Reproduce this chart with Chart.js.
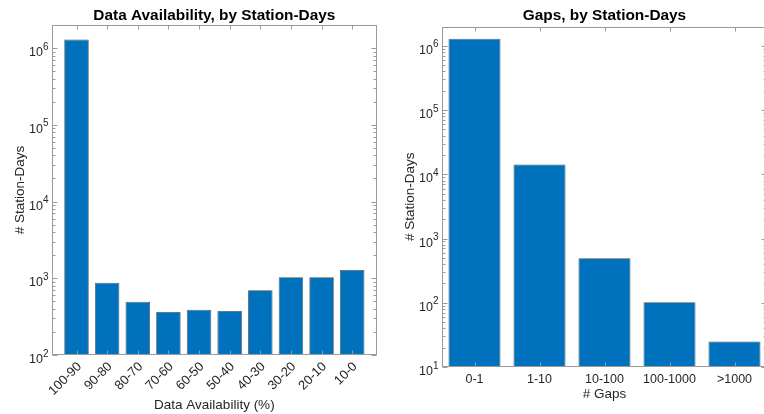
<!DOCTYPE html>
<html>
<head>
<meta charset="utf-8">
<script src="https://cdn.jsdelivr.net/npm/chart.js@4.4.1/dist/chart.umd.min.js"></script>
<style>
  html, body { margin: 0; padding: 0; background: #fff; overflow: hidden; width: 764px; height: 414px; }
  canvas { position: absolute; top: 0; }
  #availability { left: 0; }
  #gaps { left: 380px; }
</style>
</head>
<body>
<canvas id="availability" width="390" height="414"></canvas>
<canvas id="gaps" width="390" height="414"></canvas>
<script>
// Station-days per data-availability bin
const availabilityBins = ['100-90', '90-80', '80-70', '70-60', '60-50', '50-40', '40-30', '30-20', '20-10', '10-0'];
const availabilityDays = [1290000, 877, 495, 364, 390, 375, 697, 1030, 1030, 1283];
const availabilityDecades = [2, 3, 4, 5, 6];

// Station-days per number-of-gaps bin
const gapBins = ['0-1', '1-10', '10-100', '100-1000', '>1000'];
const gapDays = [1290000, 14200, 493, 102, 25];
const gapDecades = [1, 2, 3, 4, 5, 6];

const BAR_FILL = '#0072BD';
const BAR_EDGE = 'rgba(25,25,25,0.75)';
const AXIS = '#9a9a9a';
const TEXT = '#262626';
const FONT = '"Liberation Sans", Arial, Helvetica, sans-serif';

// Boxed axes with inward ticks, log minor ticks and 10^n labels
const boxedAxes = {
  id: 'boxedAxes',
  afterDraw(chart, args, o) {
    const ctx = chart.ctx, a = chart.chartArea;
    const xs = chart.scales.x, ys = chart.scales.y;
    const L = Math.round(a.left) + 0.5, R = Math.round(a.right) - 0.5;
    const T = Math.round(a.top) + 0.5, B = Math.round(a.bottom) - 0.5;
    ctx.save();
    ctx.strokeStyle = AXIS;
    ctx.lineWidth = 1;
    const seg = (x1, y1, x2, y2) => { ctx.beginPath(); ctx.moveTo(x1, y1); ctx.lineTo(x2, y2); ctx.stroke(); };
    ctx.strokeRect(L, T, R - L, B - T);

    o.categories.forEach((c, i) => {
      const px = Math.round(xs.getPixelForValue(i + 1)) + 0.5;
      seg(px, B, px, B - 4);
      seg(px, T, px, T + 4);
    });

    o.decades.forEach(e => {
      const py = Math.round(ys.getPixelForValue(Math.pow(10, e))) + 0.5;
      seg(L, py, L + 5, py);
      seg(R, py, R - 5, py);
      for (let m = 2; m <= 9; m++) {
        const v = m * Math.pow(10, e);
        if (v > ys.max) break;
        const my = Math.round(ys.getPixelForValue(v)) + 0.5;
        seg(L, my, L + 3, my);
        seg(R, my, R - 3, my);
      }
      // tick label: 10 with superscript exponent
      ctx.fillStyle = TEXT;
      ctx.textBaseline = 'alphabetic';
      ctx.textAlign = 'left';
      ctx.font = '12.5px ' + FONT;
      const wBase = ctx.measureText('10').width;
      ctx.font = '10px ' + FONT;
      const wExp = ctx.measureText(String(e)).width;
      const x0 = a.left - 3.5 - wBase - wExp;
      const cy = ys.getPixelForValue(Math.pow(10, e));
      ctx.font = '12.5px ' + FONT;
      ctx.fillText('10', x0, cy + 8);
      ctx.font = '10px ' + FONT;
      ctx.fillText(String(e), x0 + wBase, cy + 1.5);
    });

    // title and axis labels
    const cx = (a.left + a.right) / 2;
    ctx.fillStyle = '#000';
    ctx.textAlign = 'center';
    ctx.textBaseline = 'middle';
    ctx.font = 'bold 15.4px ' + FONT;
    ctx.fillText(o.title, cx, 16);
    ctx.fillStyle = TEXT;
    ctx.font = '13.5px ' + FONT;
    ctx.fillText(o.xLabel, cx, o.xLabelY);
    ctx.translate(o.yLabelX, (a.top + a.bottom) / 2);
    ctx.rotate(-Math.PI / 2);
    ctx.fillText(o.yLabel, 0, 0);
    ctx.restore();
  }
};

function makeChart(id, cats, values, cfg) {
  return new Chart(document.getElementById(id), {
    type: 'bar',
    data: {
      datasets: [{
        data: values.map((v, i) => ({ x: i + 1, y: v })),
        backgroundColor: BAR_FILL,
        borderColor: BAR_EDGE,
        borderWidth: 0.8,
        barPercentage: 0.8,
        categoryPercentage: 1
      }]
    },
    options: {
      responsive: false,
      animation: false,
      events: [],
      layout: { padding: cfg.padding },
      plugins: {
        legend: { display: false },
        tooltip: { enabled: false },
        title: { display: false },
        boxedAxes: {
          categories: cats, decades: cfg.decades, title: cfg.title,
          xLabel: cfg.xLabel, xLabelY: cfg.xLabelY, yLabel: '# Station-Days', yLabelX: cfg.yLabelX
        }
      },
      scales: {
        x: {
          type: 'linear',
          offset: false,
          bounds: 'ticks',
          min: cfg.xMin, max: cfg.xMax,
          grid: { display: false, drawTicks: false, offset: false },
          border: { display: false },
          afterBuildTicks: s => { s.ticks = cats.map((c, i) => ({ value: i + 1 })); },
          afterFit: s => { s.height = cfg.xHeight; },
          ticks: {
            autoSkip: false,
            maxRotation: cfg.rotation, minRotation: cfg.rotation,
            padding: cfg.tickPad,
            labelOffset: cfg.labelOffset,
            color: TEXT,
            font: { family: FONT, size: cfg.tickSize },
            callback: v => cats[Math.round(v) - 1]
          }
        },
        y: {
          type: 'logarithmic',
          min: cfg.yMin, max: cfg.yMax,
          grid: { display: false, drawTicks: false },
          border: { display: false },
          ticks: { display: false },
          afterFit: s => { s.width = cfg.yWidth; }
        }
      }
    },
    plugins: [boxedAxes]
  });
}

makeChart('availability', availabilityBins, availabilityDays, {
  title: 'Data Availability, by Station-Days',
  xLabel: 'Data Availability (%)', xLabelY: 405, yLabelX: 20,
  decades: availabilityDecades, yMin: 100, yMax: 2e6,
  xMin: 0.2, xMax: 10.8, rotation: 45, tickPad: 4, labelOffset: 3, tickSize: 13,
  padding: { left: 0, right: 13.3, top: 25, bottom: 0 },
  xHeight: 59, yWidth: 52
});

makeChart('gaps', gapBins, gapDays, {
  title: 'Gaps, by Station-Days',
  xLabel: '# Gaps', xLabelY: 394, yLabelX: 30,
  decades: gapDecades, yMin: 10, yMax: 2e6,
  xMin: 0.5, xMax: 5.5, rotation: 0, tickPad: 5, labelOffset: 0, tickSize: 12.5,
  padding: { left: 0, right: 3, top: 26.5, bottom: 0 },
  xHeight: 47, yWidth: 62
});
</script>
</body>
</html>
